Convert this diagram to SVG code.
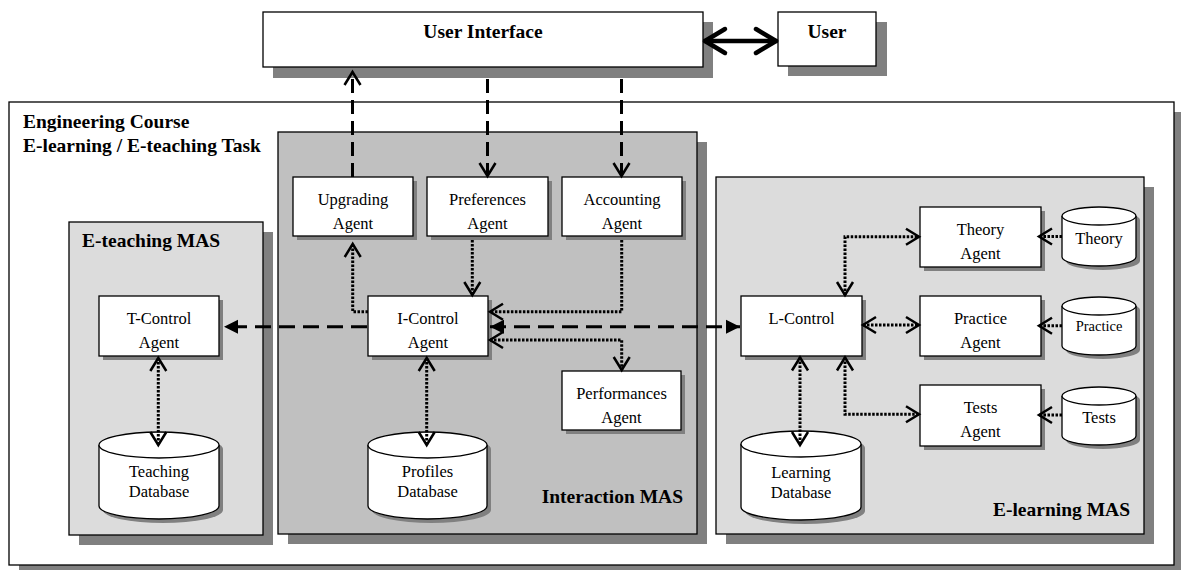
<svg xmlns="http://www.w3.org/2000/svg" width="1181" height="570" viewBox="0 0 1181 570">
<style>
.bx{fill:#fff;stroke:#000;stroke-width:1.3}
.sh{fill:#808080}
.pl{fill:#dcdcdc;stroke:#000;stroke-width:1.3}
.pd{fill:#c0c0c0;stroke:#000;stroke-width:1.3}
.t{font-family:"Liberation Serif","Times New Roman",serif;font-size:16.5px;fill:#000;text-anchor:middle}
.b{font-family:"Liberation Serif","Times New Roman",serif;font-size:19.5px;font-weight:bold;fill:#000}
.dot{fill:none;stroke:#000;stroke-width:3;stroke-dasharray:2.5 1.5}
.dash{fill:none;stroke:#000;stroke-width:3;stroke-dasharray:16 8}
.vd{fill:none;stroke:#000;stroke-width:3;stroke-dasharray:14 7}
.thick{fill:none;stroke:#000;stroke-width:4.5;stroke-linecap:round}
</style>
<defs>
<marker id="ch" markerUnits="userSpaceOnUse" markerWidth="30" markerHeight="30" viewBox="-20 -15 30 30" refX="0" refY="0" orient="auto-start-reverse" overflow="visible">
<path d="M-13,-8 L0,0 L-13,8" fill="none" stroke="#000" stroke-width="2.5"/>
</marker>
<marker id="tri" markerUnits="userSpaceOnUse" markerWidth="30" markerHeight="30" viewBox="-20 -15 30 30" refX="0" refY="0" orient="auto-start-reverse" overflow="visible">
<path d="M-14,-7 L0,0 L-14,7 Z" fill="#000"/>
</marker>
<marker id="big" markerUnits="userSpaceOnUse" markerWidth="40" markerHeight="40" viewBox="-30 -20 40 40" refX="0" refY="0" orient="auto-start-reverse" overflow="visible">
<path d="M-20,-12 L0,0 L-20,12" fill="none" stroke="#000" stroke-width="4.5" stroke-linecap="round" stroke-linejoin="round"/>
</marker>
</defs>

<g id="course">
<rect class="sh" x="19" y="112" width="1165" height="463"/>
<rect class="bx" x="9" y="102" width="1165" height="463"/>
<text class="b" x="23" y="128">Engineering Course</text>
<text class="b" x="23" y="152">E-learning / E-teaching Task</text>
</g>

<g id="eteaching-mas">
<rect class="sh" x="79" y="232" width="194" height="313"/>
<rect class="pl" x="69" y="222" width="194" height="313"/>
<text class="b" x="82" y="247">E-teaching MAS</text>
</g>

<g id="interaction-mas">
<rect class="sh" x="288" y="142" width="419" height="402"/>
<rect class="pd" x="278" y="132" width="419" height="402"/>
<text class="b" x="683" y="503" text-anchor="end">Interaction MAS</text>
</g>

<g id="elearning-mas">
<rect class="sh" x="726" y="187" width="428" height="357"/>
<rect class="pl" x="716" y="177" width="428" height="357"/>
<text class="b" x="1130" y="516" text-anchor="end">E-learning MAS</text>
</g>

<g id="user-interface">
<rect class="sh" x="273" y="22" width="440" height="56"/>
<rect class="bx" x="263" y="12" width="440" height="55"/>
<text class="b" x="483" y="38" text-anchor="middle">User Interface</text>
</g>

<g id="user">
<rect class="sh" x="788" y="22" width="99" height="54"/>
<rect class="bx" x="778" y="12" width="98" height="54"/>
<text class="b" x="827" y="38" text-anchor="middle">User</text>
</g>

<g id="upgrading-agent">
<rect class="sh" x="297" y="181" width="120" height="59"/>
<rect class="bx" x="293" y="177" width="120" height="59"/>
<text class="t" x="353" y="204.5">Upgrading</text>
<text class="t" x="353" y="228.5">Agent</text>
</g>

<g id="preferences-agent">
<rect class="sh" x="431" y="181" width="121" height="59"/>
<rect class="bx" x="427" y="177" width="121" height="59"/>
<text class="t" x="487.5" y="204.5">Preferences</text>
<text class="t" x="487.5" y="228.5">Agent</text>
</g>

<g id="accounting-agent">
<rect class="sh" x="566" y="181" width="120" height="59"/>
<rect class="bx" x="562" y="177" width="120" height="59"/>
<text class="t" x="622" y="204.5">Accounting</text>
<text class="t" x="622" y="228.5">Agent</text>
</g>

<g id="i-control-agent">
<rect class="sh" x="372" y="300" width="120" height="60"/>
<rect class="bx" x="368" y="296" width="120" height="60"/>
<text class="t" x="428" y="323.5">I-Control</text>
<text class="t" x="428" y="347.5">Agent</text>
</g>

<g id="performances-agent">
<rect class="sh" x="566" y="375" width="119" height="59"/>
<rect class="bx" x="562" y="371" width="119" height="59"/>
<text class="t" x="621.5" y="398.5">Performances</text>
<text class="t" x="621.5" y="422.5">Agent</text>
</g>

<g id="t-control-agent">
<rect class="sh" x="103" y="300" width="120" height="60"/>
<rect class="bx" x="99" y="296" width="120" height="60"/>
<text class="t" x="159" y="323.5">T-Control</text>
<text class="t" x="159" y="347.5">Agent</text>
</g>

<g id="l-control">
<rect class="sh" x="745" y="300" width="121" height="60"/>
<rect class="bx" x="741" y="296" width="121" height="60"/>
<text class="t" x="801.5" y="323.5">L-Control</text>
</g>

<g id="theory-agent">
<rect class="sh" x="924" y="211" width="121" height="60"/>
<rect class="bx" x="920" y="207" width="121" height="60"/>
<text class="t" x="980.5" y="234.5">Theory</text>
<text class="t" x="980.5" y="258.5">Agent</text>
</g>

<g id="practice-agent">
<rect class="sh" x="924" y="300" width="121" height="60"/>
<rect class="bx" x="920" y="296" width="121" height="60"/>
<text class="t" x="980.5" y="323.5">Practice</text>
<text class="t" x="980.5" y="347.5">Agent</text>
</g>

<g id="tests-agent">
<rect class="sh" x="924" y="389" width="121" height="61"/>
<rect class="bx" x="920" y="385" width="121" height="61"/>
<text class="t" x="980.5" y="413">Tests</text>
<text class="t" x="980.5" y="437">Agent</text>
</g>

<g id="teaching-database">
<path class="sh" transform="translate(4,4)" d="M99,445 L99,506 A60,13 0 0 0 219,506 L219,445 A60,13 0 0 0 99,445 Z"/>
<path class="bx" d="M99,445 L99,506 A60,13 0 0 0 219,506 L219,445 A60,13 0 0 0 99,445 Z"/>
<path class="bx" fill="none" d="M99,445 A60,13 0 0 0 219,445"/>
<text class="t" x="159" y="477">Teaching</text>
<text class="t" x="159" y="497">Database</text>
</g>

<g id="profiles-database">
<path class="sh" transform="translate(4,4)" d="M368,445 L368,506 A59.5,13 0 0 0 487,506 L487,445 A59.5,13 0 0 0 368,445 Z"/>
<path class="bx" d="M368,445 L368,506 A59.5,13 0 0 0 487,506 L487,445 A59.5,13 0 0 0 368,445 Z"/>
<path class="bx" fill="none" d="M368,445 A59.5,13 0 0 0 487,445"/>
<text class="t" x="427.5" y="477">Profiles</text>
<text class="t" x="427.5" y="497">Database</text>
</g>

<g id="learning-database">
<path class="sh" transform="translate(4,4)" d="M741,444 L741,507 A60,13 0 0 0 861,507 L861,444 A60,13 0 0 0 741,444 Z"/>
<path class="bx" d="M741,444 L741,507 A60,13 0 0 0 861,507 L861,444 A60,13 0 0 0 741,444 Z"/>
<path class="bx" fill="none" d="M741,444 A60,13 0 0 0 861,444"/>
<text class="t" x="801" y="478">Learning</text>
<text class="t" x="801" y="498">Database</text>
</g>

<g id="theory-db">
<path class="sh" transform="translate(4,4)" d="M1062,216 L1062,257 A37,9 0 0 0 1136,257 L1136,216 A37,9 0 0 0 1062,216 Z"/>
<path class="bx" d="M1062,216 L1062,257 A37,9 0 0 0 1136,257 L1136,216 A37,9 0 0 0 1062,216 Z"/>
<path class="bx" fill="none" d="M1062,216 A37,9 0 0 0 1136,216"/>
<text class="t" x="1099" y="244">Theory</text>
</g>

<g id="practice-db">
<path class="sh" transform="translate(4,4)" d="M1062,306 L1062,346 A37,9 0 0 0 1136,346 L1136,306 A37,9 0 0 0 1062,306 Z"/>
<path class="bx" d="M1062,306 L1062,346 A37,9 0 0 0 1136,346 L1136,306 A37,9 0 0 0 1062,306 Z"/>
<path class="bx" fill="none" d="M1062,306 A37,9 0 0 0 1136,306"/>
<text class="t" x="1099" y="331" style="font-size:14.5px">Practice</text>
</g>

<g id="tests-db">
<path class="sh" transform="translate(4,4)" d="M1062,396 L1062,436 A37,9 0 0 0 1136,436 L1136,396 A37,9 0 0 0 1062,396 Z"/>
<path class="bx" d="M1062,396 L1062,436 A37,9 0 0 0 1136,436 L1136,396 A37,9 0 0 0 1062,396 Z"/>
<path class="bx" fill="none" d="M1062,396 A37,9 0 0 0 1136,396"/>
<text class="t" x="1099" y="423">Tests</text>
</g>

<g id="connectors">
<path class="thick" d="M705,41 H776" marker-start="url(#big)" marker-end="url(#big)"/>
<path class="vd" d="M352.5,177 V72" marker-end="url(#ch)"/>
<path class="vd" d="M487.5,79 V176" marker-end="url(#ch)"/>
<path class="vd" d="M621.5,79 V176" marker-end="url(#ch)"/>
<path class="dash" d="M367,326.7 H224" marker-end="url(#tri)"/>
<path class="dash" d="M490,326.7 H740" marker-start="url(#tri)" marker-end="url(#tri)"/>
<path class="dot" d="M368,311.7 H352.7 V244" marker-end="url(#ch)"/>
<path class="dot" d="M472.3,240 V295" marker-end="url(#ch)"/>
<path class="dot" d="M621.7,240 V311.7 H490" marker-end="url(#ch)"/>
<path class="dot" d="M490,340 H621.7 V370" marker-start="url(#ch)" marker-end="url(#ch)"/>
<path class="dot" d="M426.7,358 V445" marker-start="url(#ch)" marker-end="url(#ch)"/>
<path class="dot" d="M158.3,358 V445" marker-start="url(#ch)" marker-end="url(#ch)"/>
<path class="dot" d="M845,295 V236.7 H919" marker-start="url(#ch)" marker-end="url(#ch)"/>
<path class="dot" d="M863,325 H919" marker-start="url(#ch)" marker-end="url(#ch)"/>
<path class="dot" d="M845,357.5 V414.3 H919" marker-start="url(#ch)" marker-end="url(#ch)"/>
<path class="dot" d="M800,357.5 V445" marker-start="url(#ch)" marker-end="url(#ch)"/>
<path class="dot" d="M1062,236.5 H1039" marker-end="url(#ch)"/>
<path class="dot" d="M1062,325.7 H1039" marker-end="url(#ch)"/>
<path class="dot" d="M1062,415 H1039" marker-end="url(#ch)"/>
</g>
</svg>
